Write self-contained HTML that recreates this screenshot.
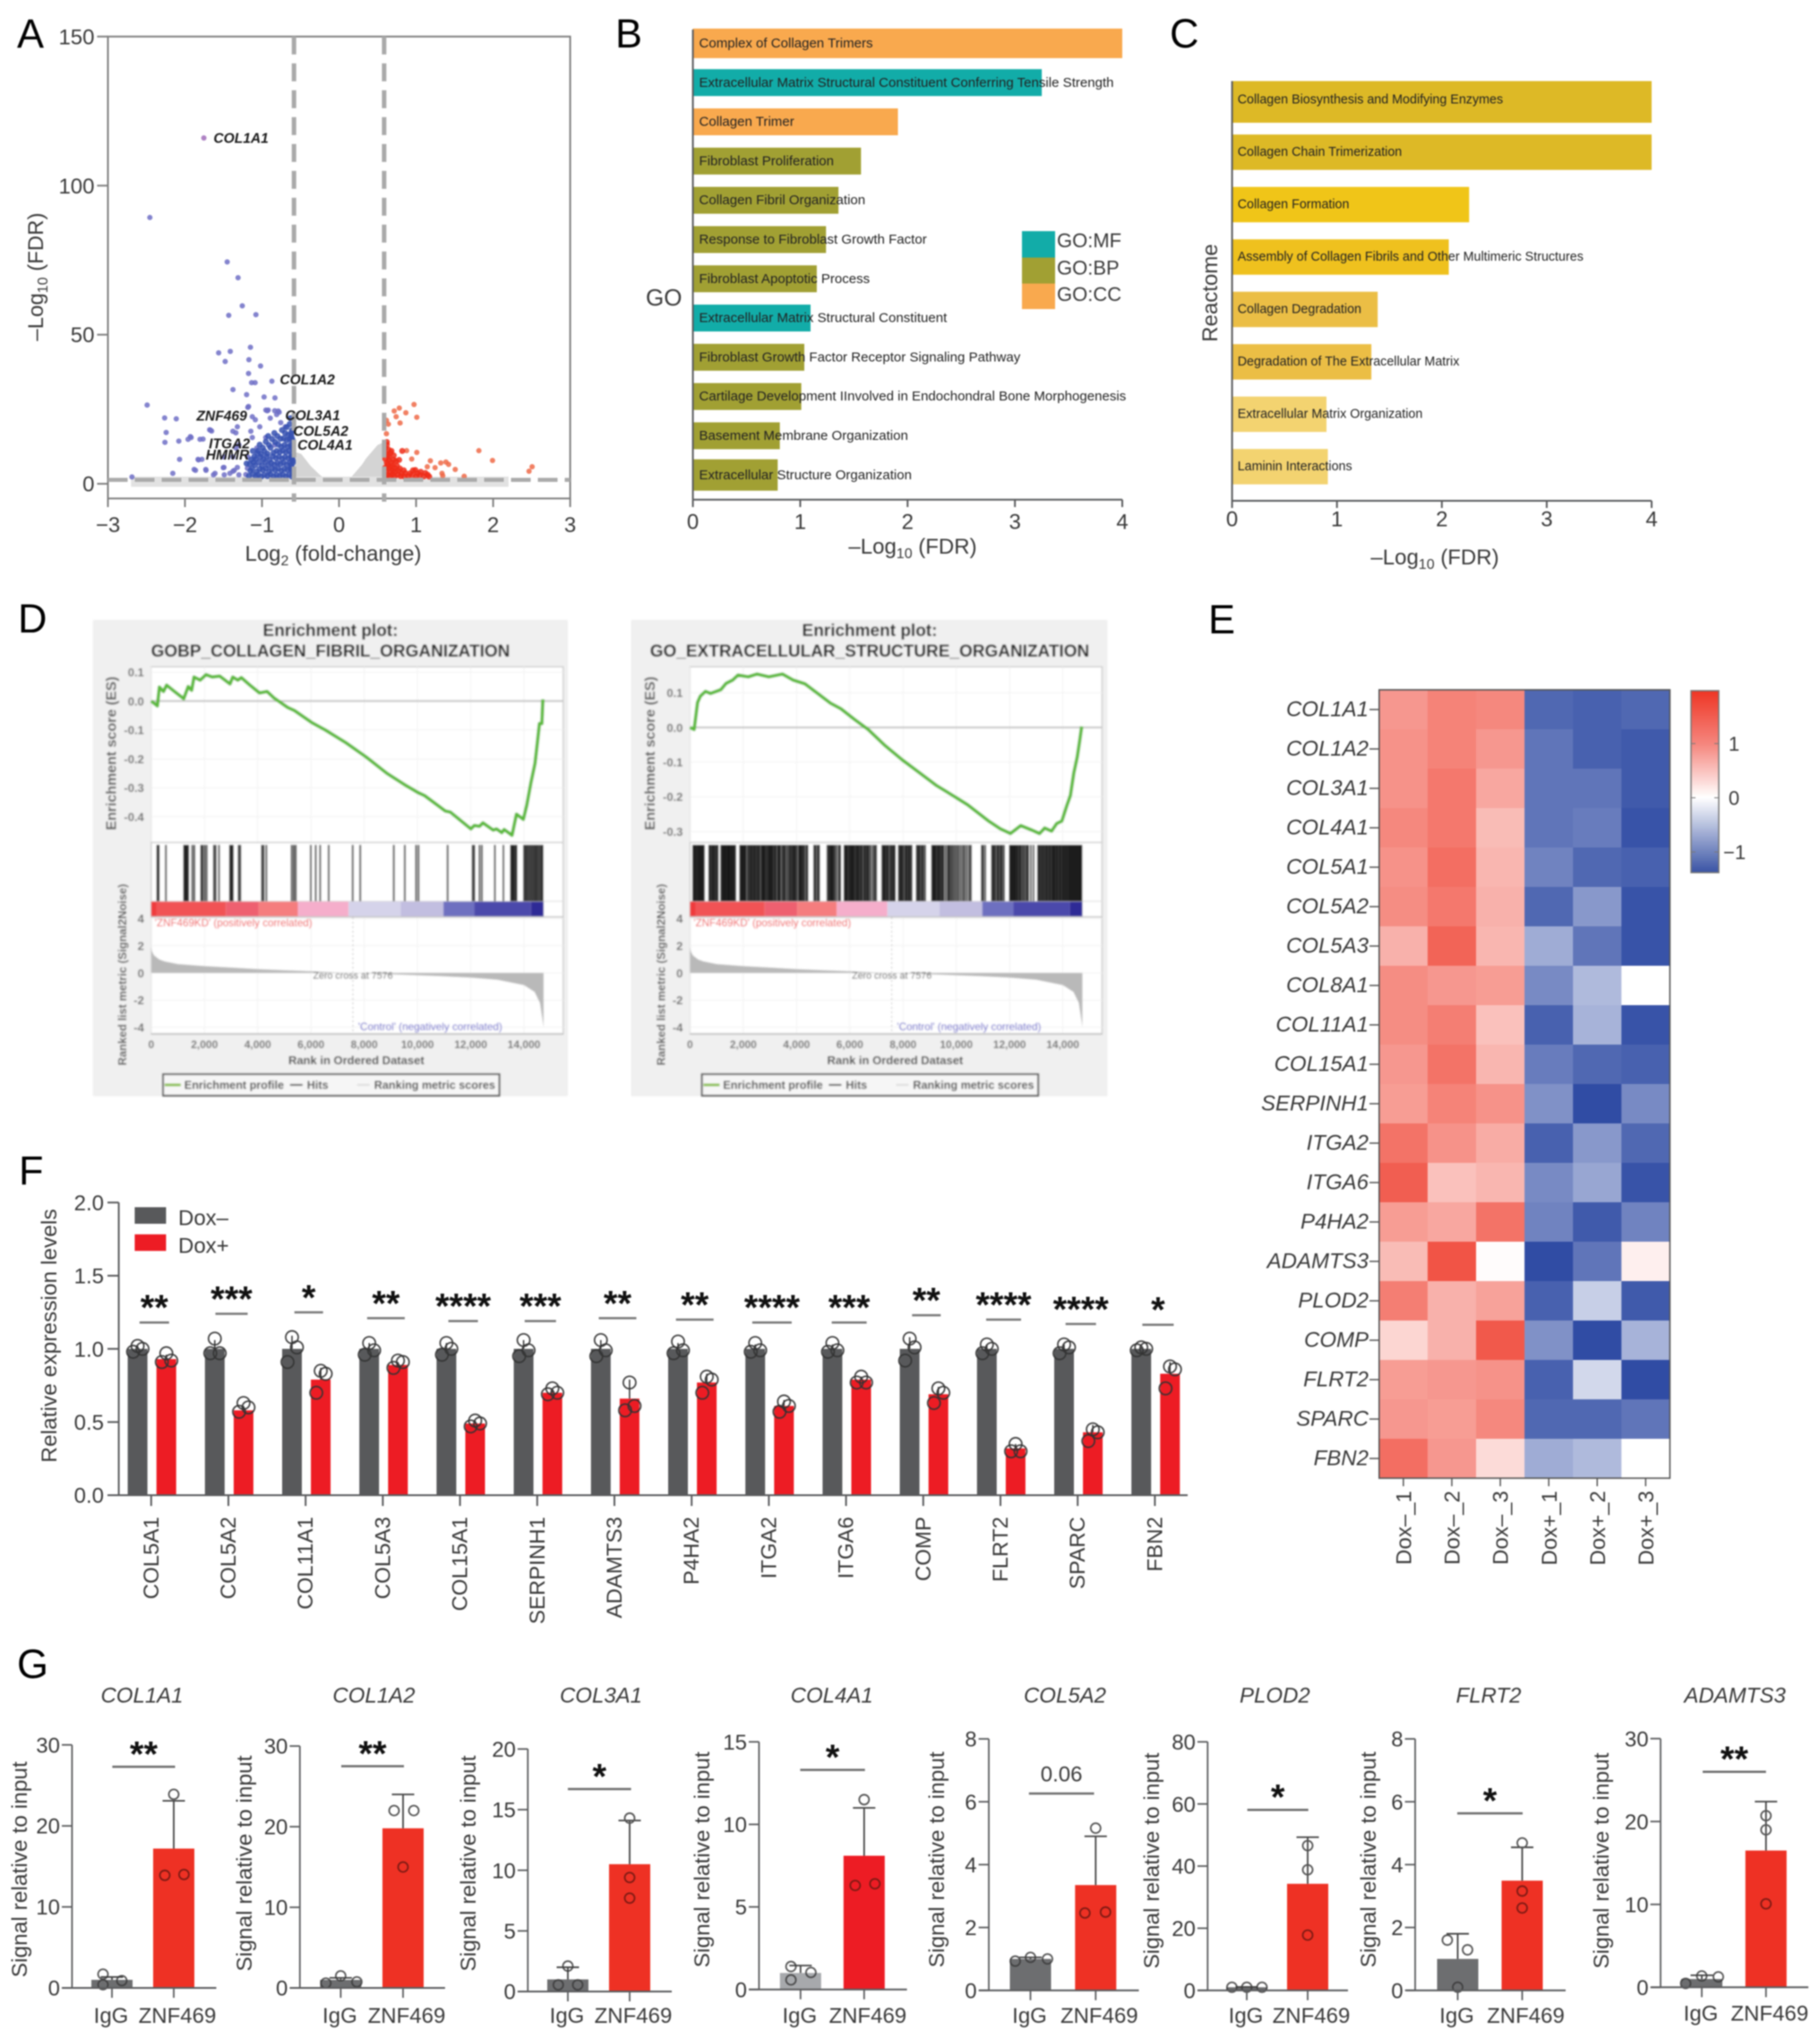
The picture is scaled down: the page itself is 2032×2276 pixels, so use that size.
<!DOCTYPE html>
<html lang="en">
<head>
<meta charset="utf-8">
<title>ZNF469 multi-panel figure</title>
<style>
html,body{margin:0;padding:0;background:#fff;}
#figure{display:block;font-family:"Liberation Sans",sans-serif;filter:blur(.8px);}
#figure text{fill:#3a3a3a;}
#figure .letter{font-size:45px;fill:#000;}
#figure .big{font-size:24px;}
#figure .gt{font-weight:bold;font-size:19px;fill:#1a1a1a;text-anchor:middle;}
#figure .gene{font-weight:bold;font-style:italic;font-size:15.6px;fill:#1c1c1c;}
#figure .star{font-weight:bold;font-size:40px;fill:#111;text-anchor:middle;}
</style>
</head>
<body>
<svg id="figure" width="2032" height="2276" viewBox="0 0 2032 2276">
<defs>
<filter id="soft" x="-2%" y="-2%" width="104%" height="104%"><feGaussianBlur stdDeviation="0.75"/></filter>
<linearGradient id="heat-grad" x1="0" y1="0" x2="0" y2="1">
<stop offset="0" stop-color="#EE3524"/><stop offset="0.3" stop-color="#F58880"/><stop offset="0.588" stop-color="#FFFFFF"/><stop offset="1" stop-color="#3953A4"/>
</linearGradient>
</defs>
<rect width="2032" height="2276" fill="#fff"/>

<!-- Panel letters -->
<text class="letter" x="19" y="53">A</text>
<text class="letter" x="687" y="53">B</text>
<text class="letter" x="1306" y="53">C</text>
<text class="letter" x="20" y="706">D</text>
<text class="letter" x="1349" y="707">E</text>
<text class="letter" x="21" y="1322">F</text>
<text class="letter" x="19" y="1873">G</text>

<!-- Panel A -->
<g id="panelA">
<text class="big" transform="rotate(-90 48 309)" x="48" y="309" text-anchor="middle">–Log<tspan dy="5" font-size="16">10</tspan><tspan dy="-5"> (FDR)</tspan></text>
<text class="big" x="372" y="626" text-anchor="middle">Log<tspan dy="5" font-size="16">2</tspan><tspan dy="-5"> (fold-change)</tspan></text>
</g>

<!-- Panel B -->
<g id="panelB">
<text x="721" y="341" font-size="26">GO</text>
<text class="big" x="1019" y="618" text-anchor="middle">–Log<tspan dy="5" font-size="16">10</tspan><tspan dy="-5"> (FDR)</tspan></text>
<rect x="1141" y="258" width="37" height="29.5" fill="#12ACA8"/>
<rect x="1141" y="287.5" width="37" height="29" fill="#A1A033"/>
<rect x="1141" y="316.5" width="37" height="28.5" fill="#F9A94E"/>
<text x="1180" y="276" font-size="22">GO:MF</text>
<text x="1180" y="306.500" font-size="22">GO:BP</text>
<text x="1180" y="336" font-size="22">GO:CC</text>
</g>

<!-- Panel C -->
<g id="panelC">
<text class="big" transform="rotate(-90 1359 327)" x="1359" y="327" text-anchor="middle">Reactome</text>
<text class="big" x="1602" y="630" text-anchor="middle">–Log<tspan dy="5" font-size="16">10</tspan><tspan dy="-5"> (FDR)</tspan></text>
</g>

<!-- Panel D -->
<g id="panelD1" filter="url(#soft)">
<rect x="103.700" y="692" width="530.300" height="531.600" fill="#f0f0f0"/>
<text class="gt" x="369" y="710">Enrichment plot:</text>
<text class="gt" x="369" y="733">GOBP_COLLAGEN_FIBRIL_ORGANIZATION</text>
</g>
<g id="panelD2" filter="url(#soft)">
<rect x="704.500" y="692" width="532" height="531.600" fill="#f0f0f0"/>
<text class="gt" x="971" y="710">Enrichment plot:</text>
<text class="gt" x="971" y="733">GO_EXTRACELLULAR_STRUCTURE_ORGANIZATION</text>
</g>

<!-- Panel E -->
<g id="panelE">
<rect x="1888" y="771" width="31" height="203" fill="url(#heat-grad)" stroke="#777" stroke-width="1.500"/>
</g>

<!-- Panel F -->
<g id="panelF">
<text class="big" transform="rotate(-90 63 1491)" x="63" y="1491" text-anchor="middle" style="font-size:24.500px">Relative expression levels</text>
<rect x="150.400" y="1347.500" width="35" height="18.500" fill="#58595B"/>
<rect x="150.400" y="1377.800" width="35" height="18.500" fill="#ED1C24"/>
<text class="big" x="199" y="1367.500">Dox–</text>
<text class="big" x="199" y="1398.500">Dox+</text>
</g>

<!-- Panel G -->
<g id="panelG"></g>
</svg>

<script>
/* ---------- Panel A data ---------- */
const volcanoXTicks = [-3,-2,-1,0,1,2,3];
const volcanoYTicks = [0,50,100,150];
const volcanoThresholdFC = 0.585;
const volcanoThresholdFDR = 1.3;
const greyFC  = [-2.7,-1.2,-0.585,-0.585,-0.55,-0.49,-0.43,-0.37,-0.31,-0.25,-0.2,-0.1,0.1,0.15,0.2,0.25,0.3,0.35,0.4,0.45,0.5,0.585,0.585,1.2,2.0];
const greyFDR = [-0.4,-0.4,-0.4,10.5,10.5,10,8,6,4.5,3,2,0.8,0.8,2,3.5,5,6.5,8.5,10,11.5,13,14,-0.4,-0.4,-0.4];
const greyBaseFC  = [-2.7,2.2,2.2,-2.7];
const greyBaseFDR = [-1,-1,2.4,2.4];
const downFC = [
-1.755,-2.456,-1.452,-1.311,-1.256,-1.432,-1.079,-1.15,-1.563,-1.412,-1.478,-1.17,-1.019,-1.175,-.872,-1.135,-1.09,-1.377,-1.2,-.973,-.832,-2.491,-1.175,-.95,-.92,-.79,-.81,-2.264,-2.113,-2.244,-2.26,-2.08,-1.93,-1.96,-1.805,-1.68,-1.654,-2.07,-1.83,-1.78,-2.158,-2.688,
-1.126,-1.087,-1.145,-1.029,-1.32,-1.339,-1.378,-1.669,-1.92,-1.766,-1.824,-1.863,-1.727,-1.61,-1.494,-1.417,-1.32,-1.3,-.952,-.835,-.757,-.699,-.893,-.932,-.835,-.777,-1.184,-1.126,-1.339,-1.184,-1.068,-1.494,-1.378,-1.63,-1.3,-1.36,-1.49,-1.881,-1.73,-1.503,-1.377,
-1.21,-1.19,-1.2,-1.17,-1.15,-1.16,-1.14,-1.12,-1.13,-1.11,-1.1,-1.12,-1.08,-1.07,-1.09,-1.08,-1.06,
-1.05,-1.03,-1.04,-1.02,-1.05,-1.03,-1.01,-.99,-1.0,-.98,-1.01,-.99,-.97,-.95,-.96,-.94,-.97,-.95,
-.93,-.91,-.92,-.9,-.93,-.91,-.92,-.89,-.87,-.88,-.86,-.89,-.87,-.85,-.83,-.84,-.82,-.85,-.83,-.84,
-.81,-.79,-.8,-.78,-.81,-.79,-.8,-.77,-.75,-.76,-.74,-.77,-.75,-.76,-.74,-.73,-.71,-.72,-.7,-.73,-.71,-.72,-.7,
-.69,-.67,-.68,-.66,-.69,-.67,-.68,-.66,-.68,-.65,-.63,-.64,-.62,-.65,-.63,-.64,-.62,-.64,-.63,
-.61,-.6,-.62,-.6,-.61,-.62,-.6,-.61,-.6,-.62,-.61,-.6,-.61,-.62,-.6,-.61,-.6,-.61];
const downFDR = [
116,89.3,74.4,69.1,59.7,56.5,56.7,45.8,43.9,44.4,41,41.6,39.5,37,34.4,33.9,33.9,31.6,29.9,29.1,28.8,26.4,25.9,24.7,24.7,24.4,23.2,22.1,21.8,17.2,13.9,14.3,15.8,14.9,14.9,18.1,17.7,8.2,8.2,8.2,3.5,2.3,
22.5,21.5,17.6,19.1,19.1,17.1,17.6,18,15.5,15,8,4.5,4.5,3.5,5.5,3.5,5.5,13,15.5,13,20.5,19.1,22,24.5,24.5,24,25.6,15.5,12,9,12,9,9,3,3,4.5,3,4.8,4.8,5.4,4.2,
3.1,5.2,6.8,2.6,4.4,6.6,8.1,3.2,5.1,7.2,9.1,11,2.5,4.1,6.2,8.3,10.2,
3.1,5,7.2,9,11.1,13.1,2.4,4.6,6.1,8.2,10,12.1,3,5.1,7.3,9.2,11,14.1,
2.6,4.1,6.2,8,10.1,13,16,3.2,5.1,7,9.2,12.1,15,2.5,4.6,6.4,8.6,10.4,14,17,
3,5.1,7,9.1,11,13.2,16,2.6,4.4,6.6,8.4,10.6,12.4,15.1,18,3.1,5,7.1,9,11.1,13,15.2,17,
2.5,4.6,6.4,8.5,10.6,12.4,14.6,16.4,19,3,5,7.1,9,11.1,13,15,17.1,20,22,
2.4,4,5.5,7.1,8.6,10,11.6,13,14.4,16.1,18,3.2,4.8,6.3,7.8,9.4,12.2,15.2];
const upFC = [
.973,.782,.716,.867,.741,1.009,.792,.615,.64,.615,1.815,1.992,2.506,2.466,1.009,.943,.877,1.185,1.145,1.246,1.32,1.387,1.422,1.508,1.336,1.346,1.624,
.6,.61,.6,.62,.6,.61,.6,.62,.63,.64,.63,.65,.63,.64,.62,.66,.67,.66,.68,.65,.67,.69,.7,.69,.71,.68,.72,.73,.72,.74,.71,.76,.77,.75,.78,.8,.81,.79,.82,.85,.86,.84,.9,.92,.95,.96,1.0,1.02,.99,1.05,1.06,1.1,1.12,1.15,1.17];
const upFDR = [
26.6,25.4,24.4,23.8,22.5,22.3,20.4,21.3,20,16.8,11.1,7.8,5.7,4.2,10.5,8.3,11.1,7.7,5.7,5.4,7,7.3,6.5,4.8,3.5,2.7,2.5,
2.5,4.1,5.4,7.1,8.4,10.1,12,14,3,5.1,6.4,8,9.6,11.5,13.1,2.6,4,5.6,7.1,9,10.4,3.1,4.4,6.1,8,11,2.5,4.1,5.4,7.6,9.5,3,4.4,6.1,8,2.6,3.4,5.1,11,2.4,3.6,4.5,2.6,3.5,3,4.5,2.5,3.5,4.6,3,4,2.5,3.6,3,2.4];
const geneLabels = ['COL1A1','COL1A2','ZNF469','COL3A1','COL5A2','ITGA2','COL4A1','HMMR'];
const geneLabelFC  = [-1.63,-.77,-1.85,-.70,-.595,-1.69,-.54,-1.73];
const geneLabelFDR = [116,35,22.8,23,17.8,13.5,13,9.8];

/* ---------- Panel B data ---------- */
const goTerms = ['Complex of Collagen Trimers','Extracellular Matrix Structural Constituent Conferring Tensile Strength','Collagen Trimer','Fibroblast Proliferation','Collagen Fibril Organization','Response to Fibroblast Growth Factor','Fibroblast Apoptotic Process','Extracellular Matrix Structural Constituent','Fibroblast Growth Factor Receptor Signaling Pathway','Cartilage Development IInvolved in Endochondral Bone Morphogenesis','Basement Membrane Organization','Extracellular Structure Organization'];
const goValues = [4,3.25,1.91,1.566,1.356,1.24,1.154,1.096,1.038,1.01,0.81,0.79];
const goSources = ['CC','MF','CC','BP','BP','BP','BP','MF','BP','BP','BP','BP'];
const fdrTicks = [0,1,2,3,4];

/* ---------- Panel C data ---------- */
const reactomeTerms = ['Collagen Biosynthesis and Modifying Enzymes','Collagen Chain Trimerization','Collagen Formation','Assembly of Collagen Fibrils and Other Multimeric Structures','Collagen Degradation','Degradation of The Extracellular Matrix','Extracellular Matrix Organization','Laminin Interactions'];
const reactomeValues = [4,4,2.26,2.066,1.388,1.328,0.9,0.913];

/* ---------- Panel D data ---------- */
const gseaXTicks = [0,2000,4000,6000,8000,10000,12000,14000];
const gseaXTickLabels = ['0','2,000','4,000','6,000','8,000','10,000','12,000','14,000'];
const metricTicks = [4,2,0,-2,-4];
const metricRank = [0,30,100,300,500,1000,2000,3000,4000,5000,6000,7000,7576,9000,10000,11000,12000,13000,14000,14400,14600,14700,14736];
const metricValue = [1.9,1.6,1.3,1.0,.85,.65,.5,.4,.28,.2,.12,.03,0,-.1,-.17,-.25,-.35,-.5,-.9,-1.4,-2.2,-3.5,-4];
const collagenEsTicks = [0.1,0,-0.1,-0.2,-0.3,-0.4];
const collagenRank = [0,232,309,463,579,875,1223,1390,1519,1609,1840,2059,2291,2574,2960,3063,3256,3385,3707,4067,4350,4607,5122,5380,6023,6538,7310,8082,8855,9498,10013,10270,11042,11235,12007,12136,12329,12458,12844,12973,13166,13256,13552,13719,13976,14105,14260,14414,14517,14582,14672,14710];
const collagenES = [0,-.017,.048,.033,.055,.033,.008,.05,.037,.083,.072,.091,.083,.086,.059,.083,.072,.081,.055,.028,.033,.011,-.022,-.033,-.074,-.1,-.144,-.194,-.25,-.288,-.316,-.327,-.38,-.384,-.442,-.43,-.433,-.421,-.446,-.442,-.455,-.444,-.464,-.391,-.409,-.36,-.283,-.216,-.133,-.078,-.078,.006];
const collagenHits = [232,283,553,1236,1287,1338,1390,1544,1622,1879,1931,2008,2085,2355,2420,2548,2960,3012,3063,3282,3346,4157,4221,4324,5277,5354,5431,5997,6178,6345,6667,7568,7851,9112,9524,9949,10039,11133,12072,12136,12329,12420,12909,13230,13513,13565,13617,13681,13719,14002,14067,14131,14196,14260,14324,14389,14453,14517,14582,14646,14697];
const structureEsTicks = [0.1,0,-0.1,-0.2,-0.3];
const structureRank = [0,154,283,386,579,772,1158,1351,1609,1802,2188,2510,2960,3475,3861,4311,4762,5277,5663,6178,6692,7336,7979,8623,9266,9653,10425,11197,11647,12033,12420,12806,13127,13320,13578,13771,13964,14157,14286,14414,14543,14633,14710];
const structureES = [0,-.006,.072,.09,.104,.098,.109,.127,.137,.151,.146,.154,.146,.154,.137,.126,.1,.07,.054,.023,-.006,-.053,-.094,-.131,-.168,-.186,-.223,-.269,-.292,-.306,-.283,-.295,-.306,-.29,-.299,-.277,-.27,-.224,-.196,-.131,-.085,-.039,.003];
const structureHits = [120,170,210,270,320,370,420,470,520,720,770,830,880,940,1000,1040,1170,1220,1260,1300,1340,1390,1430,1470,1510,1560,1600,1650,1700,1880,1920,1960,2010,2060,2100,2170,2230,2290,2340,2400,2440,2500,2560,2610,2680,2730,2770,2810,2870,2930,2980,3020,3060,3110,3170,3230,3300,3350,3390,3460,3520,3580,3650,3720,3780,3840,3900,3950,4010,4080,4130,4180,4240,4300,4370,4410,4660,4720,4790,4850,5160,5220,5280,5330,5380,5440,5510,5590,5640,5800,5850,5900,5960,6020,6070,6120,6170,6230,6290,6340,6400,6460,6530,6590,6650,6710,6780,6860,6930,6990,7220,7280,7330,7390,7450,7520,7580,7640,7690,7840,7900,7950,8010,8080,8140,8200,8260,8320,8510,8570,8630,8700,8760,8830,9090,9140,9180,9230,9290,9340,9400,9460,9520,9600,9680,9740,9810,9880,9950,10020,10090,10170,10250,10320,10400,10480,10550,10960,11010,11090,11340,11400,11460,11530,11590,11660,11720,11790,12010,12060,12100,12150,12200,12250,12310,12370,12430,12500,12570,12640,12700,12800,12900,13070,13120,13180,13240,13300,13360,13420,13480,13540,13600,13650,13700,13760,13810,13870,13920,13980,14030,14080,14130,14180,14230,14280,14330,14380,14430,14480,14530,14580,14620,14660,14700];
const bandEdges = [0,206,2805,4028,5508,7413,9369,10977,12136,14260,14736];

/* ---------- Panel E data ---------- */
const heatGenes = ['COL1A1','COL1A2','COL3A1','COL4A1','COL5A1','COL5A2','COL5A3','COL8A1','COL11A1','COL15A1','SERPINH1','ITGA2','ITGA6','P4HA2','ADAMTS3','PLOD2','COMP','FLRT2','SPARC','FBN2'];
const heatSamples = ['Dox–_1','Dox–_2','Dox–_3','Dox+_1','Dox+_2','Dox+_3'];
const heatDoxMinus1 = [1.0,1.05,1.05,1.15,1.05,1.1,.75,1.1,1.1,1.0,.95,1.35,1.55,.95,.65,1.25,.4,.95,1.0,1.4];
const heatDoxMinus2 = [1.2,1.2,1.3,1.3,1.4,1.3,1.5,1.0,1.25,1.35,1.2,1.05,.6,.85,1.65,.75,.75,1.0,.95,1.0];
const heatDoxMinus3 = [1.15,1.0,.85,.65,.7,.75,.7,.95,.6,.7,1.05,.8,.7,1.35,.03,.9,1.6,1.05,1.15,.35];
const heatDoxPlus1 = [-1.1,-1.0,-1.0,-1.0,-.9,-1.1,-.6,-.85,-1.15,-.95,-.8,-1.15,-.85,-.9,-1.35,-1.15,-.8,-1.15,-1.1,-.6];
const heatDoxPlus2 = [-1.15,-1.15,-1.0,-.95,-1.1,-.75,-1.0,-.5,-.55,-1.1,-1.3,-.75,-.65,-1.2,-1.0,-.35,-1.3,-.28,-1.1,-.5];
const heatDoxPlus3 = [-1.1,-1.2,-1.2,-1.25,-1.15,-1.25,-1.25,0,-1.25,-1.15,-.85,-1.1,-1.25,-.9,.15,-1.2,-.55,-1.3,-1.0,0];
const heatColorbarTicks = [1,0,-1];
const heatColorbarLabels = ['1','0','−1'];

/* ---------- Panel F data ---------- */
const fGenes = ['COL5A1','COL5A2','COL11A1','COL5A3','COL15A1','SERPINH1','ADAMTS3','P4HA2','ITGA2','ITGA6','COMP','FLRT2','SPARC','FBN2'];
const fDoxMinus = [1,1,1,1,1,1,1,1,1,1,1,1,1,1];
const fDoxPlus = [.93,.58,.79,.89,.49,.70,.66,.77,.61,.79,.69,.32,.43,.83];
const fErrMinus = [.02,.06,.09,.04,.04,.06,.06,.04,.03,.03,.08,.03,.03,.01];
const fErrPlus = [.03,.03,.08,.02,.02,.02,.13,.06,.04,.02,.05,.03,.05,.08];
const fRepsMinus = [[.98,1.02,1.0],[.97,1.07,.97],[.91,1.08,1.01],[.96,1.04,.99],[.96,1.04,1.0],[.95,1.06,.99],[.95,1.06,.99],[.97,1.05,.99],[.98,1.04,.99],[.98,1.04,.99],[.92,1.07,1.01],[.97,1.03,1.0],[.97,1.03,1.01],[.99,1.01,1.0]];
const fRepsPlus = [[.91,.97,.92],[.57,.63,.6],[.70,.85,.83],[.87,.92,.91],[.47,.51,.49],[.69,.73,.7],[.58,.77,.61],[.70,.81,.79],[.57,.64,.61],[.77,.81,.77],[.63,.73,.70],[.30,.35,.30],[.37,.45,.43],[.73,.88,.86]];
const fSigLevel = [1.18,1.24,1.25,1.21,1.19,1.19,1.21,1.20,1.18,1.18,1.23,1.20,1.17,1.165];
const fSigText = ['**','***','*','**','****','***','**','**','****','***','**','****','****','*'];
const fYTicks = [0,.5,1,1.5,2];
const fYTickLabels = ['0.0','0.5','1.0','1.5','2.0'];

/* ---------- Panel G data ---------- */
const gGenes = ['COL1A1','COL1A2','COL3A1','COL4A1','COL5A2','PLOD2','FLRT2','ADAMTS3'];
const gCategories = ['IgG','ZNF469'];
const gYMax = [30,30,20,15,8,80,8,30];
const gYTicks = [[0,10,20,30],[0,10,20,30],[0,5,10,15,20],[0,5,10,15],[0,2,4,6,8],[0,20,40,60,80],[0,2,4,6,8],[0,10,20,30]];
const gIgG = [1,1,1,1,1,1,1,1];
const gZNF = [17.2,19.8,10.5,8.1,3.35,34.3,3.49,16.5];
const gIgGErr = [.35,.25,1,.45,.05,.1,.8,.45];
const gZNFErr = [5.9,4.2,3.6,2.9,1.55,15,1.06,5.9];
const gIgGReps = [[1.7,.4,.9],[.6,1.5,.75],[.55,.55,2.1],[.58,1.39,1.03],[.93,1.05,1.0],[1,1,1],[.1,1.6,1.29],[.47,1.37,1.26]];
const gZNFReps = [[13.9,14,23.9],[15,22,22],[14.3,9.4,7.7],[6.3,6.4,11.5],[2.46,2.49,5.16],[17.8,38.8,46.6],[3.16,2.62,4.69],[10.07,19,20.7]];
const gSigLevel = [27.3,27.5,16.7,13.3,6.26,58.1,5.63,26];
const gSigText = ['**','**','*','*','0.06','*','*','**'];

/* ---------- Helpers ---------- */
const svgRoot = document.getElementById('figure');
const NS = svgRoot.namespaceURI;
function mk(tag, attrs, parent) {
  const el = document.createElementNS(NS, tag);
  for (const k in attrs) el.setAttribute(k, attrs[k]);
  parent.appendChild(el);
  return el;
}
function scale(d0, d1, r0, r1) {
  return v => r0 + (v - d0) * (r1 - r0) / (d1 - d0);
}
function axisLine(parent, x1, y1, x2, y2, stroke, width) {
  const el = mk('line', {x1, y1, x2, y2, stroke, 'stroke-width': width}, parent);
  
  
  return el;
}
function label(parent, str, x, y, size, anchor, extra) {
  const el = mk('text', Object.assign({x, y, 'font-size': size, 'text-anchor': anchor}, extra || {}), parent);
  el.textContent = str;
  
  
  return el;
}
const AXC = '#5b5c5e';

/* ---------- Panel A ---------- */
(function () {
  const g = document.getElementById('panelA');
  const xA = scale(-3, 3, 120.5, 636.6);
  const yA = scale(0, 150, 540, 40.8);
  const greyPts = greyFC.map((v, i) => xA(v) + ',' + yA(greyFDR[i])).join(' ');
  const greyPoly = mk('polygon', {points: greyPts, fill: '#d4d4d4'}, g);
  
  
  const basePts = greyBaseFC.map((v, i) => xA(v) + ',' + yA(greyBaseFDR[i])).join(' ');
  const basePoly = mk('polygon', {points: basePts, fill: '#e2e2e2'}, g);
  
  
  upFC.forEach((v, i) => {
    const c = mk('circle', {cx: xA(v), cy: yA(upFDR[i]), r: i < 27 ? 3 : 3.4, fill: i < 27 ? '#ef6a48' : '#ee2c18', 'fill-opacity': i < 27 ? .85 : .85}, g);
    
    
  });
  downFC.forEach((v, i) => {
    const c = mk('circle', {cx: xA(v), cy: yA(downFDR[i]), r: i < 85 ? 3 : 3.4, fill: i === 0 ? '#a06cb8' : (i < 85 ? '#6f6fc6' : '#3550b0'), 'fill-opacity': .85}, g);
    
    
  });
  const box = mk('rect', {x: 120.5, y: 40.8, width: 516.1, height: 515.6, fill: 'none', stroke: '#808080', 'stroke-width': 2}, g);
  
  
  [-volcanoThresholdFC, volcanoThresholdFC].forEach(v => {
    const l = mk('line', {x1: xA(v), x2: xA(v), y1: 40.8, y2: 560, stroke: '#aaaaaa', 'stroke-width': 5, 'stroke-dasharray': '20 10'}, g);
    
    
  });
  const h = mk('line', {x1: 120.5, x2: 636.6, y1: yA(volcanoThresholdFDR), y2: yA(volcanoThresholdFDR), stroke: '#aaaaaa', 'stroke-width': 4.5, 'stroke-dasharray': '22 8'}, g);
  
  
  volcanoYTicks.forEach(v => {
    axisLine(g, 108.4, yA(v), 120.5, yA(v), '#808080', 2);
    label(g, String(v), 105.5, yA(v) + 8.6, 24, 'end');
  });
  volcanoXTicks.forEach(v => {
    axisLine(g, xA(v), 556.4, xA(v), 566, '#808080', 2);
    label(g, String(v).replace('-', '−'), xA(v), 594, 24, 'middle');
  });
  geneLabels.forEach((t, i) => {
    const el = mk('text', {x: xA(geneLabelFC[i]), y: yA(geneLabelFDR[i]) + 5.5, class: 'gene'}, g);
    el.textContent = t;
    
    
  });
})();

/* ---------- Panel B ---------- */
(function () {
  const g = document.getElementById('panelB');
  const xB = scale(0, 4, 773.6, 1253);
  const rowB = i => 48.4 + i * 43.8;
  const sourceColor = {CC: '#F9A94E', MF: '#12ACA8', BP: '#A1A033'};
  goTerms.forEach((t, i) => {
    const h = i === 0 ? 33 : (i === 11 ? 35 : 30);
    const b = mk('rect', {x: xB(0), y: rowB(i) - h / 2, width: xB(goValues[i]) - xB(0), height: h, fill: sourceColor[goSources[i]]}, g);
    
    
  });
  goTerms.forEach((t, i) => {
    label(g, t, 780.5, rowB(i) + 4.6, 15.05, 'start', {style: 'fill:#222'});
  });
  axisLine(g, xB(0), 33, xB(0), 557.7, AXC, 2);
  axisLine(g, xB(0), 557.7, xB(4), 557.7, AXC, 2);
  fdrTicks.forEach(v => {
    axisLine(g, xB(v), 557.7, xB(v), 566, AXC, 2);
    label(g, String(v), xB(v), 590.6, 24, 'middle');
  });
})();

/* ---------- Panel C ---------- */
(function () {
  const g = document.getElementById('panelC');
  const xC = scale(0, 4, 1375.6, 1844);
  const rowC = i => 111 + i * 58.5;
  const shades = ['#DDB926','#DDB926','#F0C518','#EFC11E','#EBBE45','#EBBE45','#F3D370','#F3D370'];
  reactomeTerms.forEach((t, i) => {
    const h = i === 0 ? 46.5 : 39.5;
    const top = i === 0 ? 90.5 : rowC(i) - h / 2 + 0.4;
    const b = mk('rect', {x: xC(0), y: top, width: xC(reactomeValues[i]) - xC(0), height: h, fill: shades[i]}, g);
    
    
  });
  reactomeTerms.forEach((t, i) => {
    label(g, t, 1381.7, rowC(i) + 4.6, 14.3, 'start', {style: 'fill:#222'});
  });
  axisLine(g, xC(0), 90.5, xC(0), 559, AXC, 2);
  axisLine(g, xC(0), 559, xC(4), 559, AXC, 2);
  fdrTicks.forEach(v => {
    axisLine(g, xC(v), 559, xC(v), 567, AXC, 2);
    label(g, String(v), xC(v), 587.3, 24, 'middle');
  });
})();

/* ---------- Panel D ---------- */
function drawGsea(g, opt) {
  const L = opt.left, R = L + 460;
  const xD = scale(0, 14000, L, L + 416.2);
  const yES = scale(0, 0.1, opt.zero, opt.zero - opt.unit);
  const yM = scale(0, 2, 1086, 1055.7);
  const bg = mk('rect', {x: L, y: 744.3, width: 460, height: 410, fill: '#fff', stroke: '#cfcfcf', 'stroke-width': 1.5}, g);
  
  
  /* grid */
  gseaXTicks.forEach(v => {
    axisLine(g, xD(v), 744.3, xD(v), 940, '#f2f2f2', 1);
    axisLine(g, xD(v), 1024, xD(v), 1154, '#f2f2f2', 1);
  });
  opt.esTicks.forEach(v => {
    axisLine(g, L, yES(v), R, yES(v), v === 0 ? '#c4c4c4' : '#f2f2f2', v === 0 ? 2 : 1);
    label(g, v === 0 ? '0.0' : v.toFixed(1), L - 8, yES(v) + 4.8, 13, 'end', {'font-weight': 'bold', style: 'fill:#6e6e6e'});
  });
  metricTicks.forEach(v => {
    axisLine(g, L, yM(v), R, yM(v), '#f2f2f2', 1);
    label(g, String(v), L - 8, yM(v) + 4.8, 13, 'end', {'font-weight': 'bold', style: 'fill:#6e6e6e'});
  });
  axisLine(g, L, 940.4, R, 940.4, '#cfcfcf', 1.5);
  axisLine(g, L, 1006, R, 1006, '#dddddd', 1);
  /* hits */
  opt.hits.forEach(r => {
    const l = mk('line', {x1: xD(r), x2: xD(r), y1: 943, y2: 1006, stroke: '#0c0c0c', 'stroke-width': 1.8, 'stroke-opacity': .9}, g);
    
    
  });
  /* colour band */
  const bandColors = ['#ef3a3c','#f15254','#ee6170','#f57d7e','#f5aecb','#d5d3ea','#c2bee0','#6e70c0','#4b48ab','#2e2a96'];
  bandEdges.slice(0, -1).forEach((e, i) => {
    const r = mk('rect', {x: xD(e), y: 1006.4, width: xD(bandEdges[i + 1]) - xD(e), height: 16.6, fill: bandColors[i]}, g);
    
    
  });
  axisLine(g, L, 1023.5, R, 1023.5, '#c4c4c4', 1.5);
  /* metric area */
  const metricPts = [xD(0) + ',' + yM(0)].concat(metricRank.map((r, i) => xD(r) + ',' + yM(metricValue[i])), [xD(14736) + ',' + yM(0)]).join(' ');
  const area = mk('polygon', {points: metricPts, fill: '#b9b9b9'}, g);
  
  
  const zl = mk('line', {x1: xD(7576), x2: xD(7576), y1: 1024, y2: 1154, stroke: '#bbb', 'stroke-width': 1, 'stroke-dasharray': '2 3'}, g);
  
  
  /* curve */
  const curve = mk('polyline', {points: opt.rank.map((r, i) => xD(r) + ',' + yES(opt.es[i])).join(' '), fill: 'none', stroke: '#59b838', 'stroke-width': 3.6, 'stroke-linejoin': 'round'}, g);
  
  
  /* x ticks */
  axisLine(g, L, 1154, R, 1154, '#bdbdbd', 1.5);
  gseaXTicks.forEach((v, i) => {
    label(g, gseaXTickLabels[i], xD(v), 1170, 12, 'middle', {'font-weight': 'bold', style: 'fill:#6e6e6e'});
  });
  /* annotation text */
  label(g, 'Rank in Ordered Dataset', L + 229, 1188, 13, 'middle', {'font-weight': 'bold', style: 'fill:#4a4a4a'});
  label(g, 'Enrichment score (ES)', 0, 0, 16, 'middle', {'font-weight': 'bold', style: 'fill:#5a5a5a', transform: 'translate(' + (L - 39.5) + ',841) rotate(-90)'});
  label(g, 'Ranked list metric (Signal2Noise)', 0, 0, 12.8, 'middle', {'font-weight': 'bold', style: 'fill:#5a5a5a', transform: 'translate(' + (L - 28) + ',1088) rotate(-90)'});
  label(g, "'ZNF469KD' (positively correlated)", L + 4, 1034, 11.6, 'start', {style: 'fill:#f04a4c'});
  label(g, "'Control' (negatively correlated)", L + 231, 1150, 11.7, 'start', {style: 'fill:#5e5cca'});
  label(g, 'Zero cross at 7576', xD(7576), 1092.5, 10.7, 'middle', {style: 'fill:#555'});
  /* legend */
  const lb = mk('rect', {x: L + 13.2, y: 1199, width: 375.6, height: 24, fill: '#f6f6f6', stroke: '#555', 'stroke-width': 2}, g);
  
  
  axisLine(g, L + 15, 1211, L + 33, 1211, '#8cc152', 3);
  axisLine(g, L + 155, 1211, L + 169, 1211, '#555', 2);
  axisLine(g, L + 230, 1211, L + 244, 1211, '#ddd', 2);
  label(g, 'Enrichment profile', L + 37, 1215.5, 12.6, 'start', {'font-weight': 'bold', style: 'fill:#4a4a4a'});
  label(g, 'Hits', L + 174, 1215.5, 12.6, 'start', {'font-weight': 'bold', style: 'fill:#4a4a4a'});
  label(g, 'Ranking metric scores', L + 249, 1215.5, 12.6, 'start', {'font-weight': 'bold', style: 'fill:#4a4a4a'});
}
drawGsea(document.getElementById('panelD1'), {left: 168.8, zero: 782.5, unit: 32.3, esTicks: collagenEsTicks, rank: collagenRank, es: collagenES, hits: collagenHits});
drawGsea(document.getElementById('panelD2'), {left: 770.4, zero: 812, unit: 38.7, esTicks: structureEsTicks, rank: structureRank, es: structureES, hits: structureHits});

/* ---------- Panel E ---------- */
(function () {
  const g = document.getElementById('panelE');
  const X0 = 1539.8, Y0 = 770, CW = 54.1, RH = 44;
  const heatCols = [heatDoxMinus1, heatDoxMinus2, heatDoxMinus3, heatDoxPlus1, heatDoxPlus2, heatDoxPlus3];
  function heatColor(v) {
    const hi = v > 0 ? [238, 53, 36] : [48, 76, 164];
    const t = Math.min(Math.abs(v) / (v > 0 ? 1.95 : 1.3), 1);
    const c = hi.map(h => Math.round(255 + (h - 255) * t));
    return 'rgb(' + c.join(',') + ')';
  }
  const colX = j => X0 + CW * j;
  const rowY = i => Y0 + RH * i;
  heatCols.forEach((col, j) => {
    col.forEach((v, i) => {
      const r = mk('rect', {x: colX(j), y: rowY(i), width: CW + .4, height: RH + .4, fill: heatColor(v)}, g);
      
      
    });
  });
  const fr = mk('rect', {x: X0, y: Y0, width: CW * 6, height: RH * 20, fill: 'none', stroke: '#555', 'stroke-width': 1.6}, g);
  
  
  heatGenes.forEach((t, i) => {
    axisLine(g, 1529, rowY(i) + RH / 2, X0, rowY(i) + RH / 2, '#555', 1.5);
    label(g, t, 1528, rowY(i) + RH / 2 + 7.4, 24, 'end', {'font-style': 'italic'});
  });
  heatSamples.forEach((t, j) => {
    const cx = colX(j) + CW / 2;
    axisLine(g, cx, Y0 + RH * 20, cx, Y0 + RH * 20 + 9, '#555', 1.5);
    label(g, t, 0, 0, 24, 'end', {transform: 'translate(' + (cx + 8.6) + ',1664) rotate(-90)'});
  });
  const yBar = scale(0, 1, 890.5, 830);
  heatColorbarTicks.forEach((v, i) => {
    axisLine(g, 1888, yBar(v), 1893, yBar(v), '#777', 1);
    axisLine(g, 1914, yBar(v), 1919, yBar(v), '#777', 1);
    label(g, heatColorbarLabels[i], v < 0 ? 1924 : 1936, yBar(v) + 8, 22, v < 0 ? 'start' : 'middle');
  });
})();

/* ---------- Panel F ---------- */
(function () {
  const g = document.getElementById('panelF');
  const yF = scale(0, 2, 1669, 1342.3);
  const xF = i => 168.8 + i * 86.2;
  const sigSpan = [33,36,32,42,33,35,42,42,44,39,32,39,34,35];
  axisLine(g, 132.6, 1342.3, 132.6, 1669, AXC, 2);
  fYTicks.forEach((v, i) => {
    axisLine(g, 120, yF(v), 132.6, yF(v), AXC, 2);
    label(g, fYTickLabels[i], 116, yF(v) + 8.6, 24, 'end');
  });
  fGenes.forEach((t, i) => {
    const cx = xF(i);
    const gx = cx - 15.2, rx = cx + 16.9;
    const bg = mk('rect', {x: gx - 11, y: yF(fDoxMinus[i]), width: 22, height: yF(0) - yF(fDoxMinus[i]), fill: '#58595B'}, g);
    
    
    const br = mk('rect', {x: rx - 11, y: yF(fDoxPlus[i]), width: 22, height: yF(0) - yF(fDoxPlus[i]), fill: '#ED1C24'}, g);
    
    
    const eg = mk('line', {x1: gx, x2: gx, y1: yF(fDoxMinus[i]), y2: yF(fDoxMinus[i] + fErrMinus[i]), stroke: '#333', 'stroke-width': 1.5}, g);
    
    
    const er = mk('line', {x1: rx, x2: rx, y1: yF(fDoxPlus[i]), y2: yF(fDoxPlus[i] + fErrPlus[i]), stroke: '#333', 'stroke-width': 1.5}, g);
    
    
    const jitter = [-5, 0, 5.5];
    fRepsMinus[i].forEach((v, k) => {
      const c = mk('circle', {cx: gx + jitter[k], cy: yF(v), r: 7, fill: 'none', stroke: '#333', 'stroke-width': 1.8, 'stroke-opacity': .9}, g);
      
      
    });
    fRepsPlus[i].forEach((v, k) => {
      const c = mk('circle', {cx: rx + jitter[k], cy: yF(v), r: 7, fill: 'none', stroke: '#333', 'stroke-width': 1.8, 'stroke-opacity': .9}, g);
      
      
    });
    const half = sigSpan[i] / 2;
    const s = mk('line', {x1: cx + 3.5 - half, x2: cx + 3.5 + half, y1: yF(fSigLevel[i]), y2: yF(fSigLevel[i]), stroke: '#7a7a7a', 'stroke-width': 2.5}, g);
    
    
    const st = mk('text', {x: cx + 3.5, y: yF(fSigLevel[i]) - 3, class: 'star'}, g);
    st.textContent = fSigText[i];
    
    
    axisLine(g, cx, 1669, cx, 1681, AXC, 2);
    label(g, t, 0, 0, 24, 'end', {transform: 'translate(' + (cx + 8) + ',1693) rotate(-90)'});
  });
  axisLine(g, 120, 1669, 1326, 1669, AXC, 2);
})();

/* ---------- Panel G ---------- */
(function () {
  const g = document.getElementById('panelG');
  const layout = [
    {ax: 80.4, y0: 2219, top: 1947.7, igg: 125, znf: 194, left: 69, right: 241.5, title: 158.5, yt: 30, ytc: 2086.7, sigL: 125.4, sigR: 195.5, jg: [-10, -10, 11], jr: [-10, 11.4, 0], grey: '#6d6e70', red: '#EE3124', lab: 2249.3},
    {ax: 334.8, y0: 2219, top: 1949, igg: 380.4, znf: 450, left: 323.7, right: 496.9, title: 417.4, yt: 281, ytc: 2080, sigL: 381, sigR: 451, jg: [-16.6, 0, 18], jr: [0, -10, 12], grey: '#6d6e70', red: '#EE3124', lab: 2249.3},
    {ax: 589.3, y0: 2223, top: 1952.3, igg: 634, znf: 703, left: 578, right: 750, title: 671, yt: 531, ytc: 2080, sigL: 634, sigR: 704.6, jg: [-10.7, 11, 0], jr: [0, 0, 0], grey: '#6d6e70', red: '#EE3124', lab: 2249.3},
    {ax: 847.4, y0: 2220.7, top: 1944.3, igg: 893.8, znf: 964.8, left: 836, right: 1012.6, title: 928.7, yt: 792, ytc: 2075.7, sigL: 893.4, sigR: 965.7, jg: [-10.7, -10.7, 11.6], jr: [-10, 12, 0], grey: '#a7a9ac', red: '#ED1C24', lab: 2249.3},
    {ax: 1104, y0: 2221.7, top: 1941, igg: 1150.5, znf: 1223.3, left: 1093, right: 1271.5, title: 1189, yt: 1054, ytc: 2075.7, sigL: 1148.8, sigR: 1221.5, jg: [-17, 0, 19], jr: [-12, 11, 0], grey: '#6d6e70', red: '#EE3124', lab: 2249.3},
    {ax: 1348.3, y0: 2221.7, top: 1944.3, igg: 1392, znf: 1460, left: 1337, right: 1505, title: 1423.4, yt: 1294, ytc: 2077, sigL: 1392.6, sigR: 1460.7, jg: [-16.6, 0, 17], jr: [0, 0, 0], grey: '#6d6e70', red: '#EE3124', lab: 2249.3},
    {ax: 1580, y0: 2221.7, top: 1941, igg: 1627.5, znf: 1699.5, left: 1570, right: 1748, title: 1662, yt: 1536, ytc: 2075.7, sigL: 1627, sigR: 1700, jg: [0, -11.6, 11], jr: [0, 0, 0], grey: '#6d6e70', red: '#EE3124', lab: 2249.3},
    {ax: 1854, y0: 2218.3, top: 1940.7, igg: 1900, znf: 1971.7, left: 1843.5, right: 2019, title: 1937, yt: 1796, ytc: 2077, sigL: 1901, sigR: 1971.7, jg: [-18, 0, 18.5], jr: [0, 0, 0], grey: '#6d6e70', red: '#EE3124', lab: 2246.7}
  ];
  gGenes.forEach((gene, i) => {
    const L = layout[i];
    const yG = scale(0, gYMax[i], L.y0, L.top);
    const bw = 23;
    const t = mk('text', {x: L.title, y: 1893 + 7.6, 'font-size': 24, 'font-style': 'italic', 'text-anchor': 'middle'}, g);
    t.textContent = gene;
    
    
    const yl = mk('text', {'font-size': 24.5, 'text-anchor': 'middle', transform: 'translate(' + L.yt + ',' + L.ytc + ') rotate(-90)'}, g);
    yl.textContent = 'Signal relative to input';
    
    
    const b1 = mk('rect', {x: L.igg - bw, y: yG(gIgG[i]), width: bw * 2, height: L.y0 - yG(gIgG[i]), fill: L.grey}, g);
    
    
    const b2 = mk('rect', {x: L.znf - bw, y: yG(gZNF[i]), width: bw * 2, height: L.y0 - yG(gZNF[i]), fill: L.red}, g);
    
    
    [[L.igg, gIgG[i], gIgGErr[i]], [L.znf, gZNF[i], gZNFErr[i]]].forEach(e => {
      axisLine(g, e[0], yG(e[1]), e[0], yG(e[1] + e[2]), '#444', 1.8);
      axisLine(g, e[0] - 12.5, yG(e[1] + e[2]), e[0] + 12.5, yG(e[1] + e[2]), '#444', 1.8);
    });
    gIgGReps[i].forEach((v, k) => {
      const c = mk('circle', {cx: L.igg + L.jg[k], cy: yG(v), r: 5.5, fill: 'none', stroke: '#3a3a3a', 'stroke-width': 1.8, 'stroke-opacity': .85}, g);
      
      
    });
    gZNFReps[i].forEach((v, k) => {
      const c = mk('circle', {cx: L.znf + L.jr[k], cy: yG(v), r: 5.5, fill: 'none', stroke: v > gZNF[i] ? '#555' : '#7e1a14', 'stroke-width': 1.8}, g);
      
      
    });
    axisLine(g, L.ax, L.top, L.ax, L.y0, AXC, 1.8);
    gYTicks[i].forEach(v => {
      axisLine(g, L.ax - 11.4, yG(v), L.ax, yG(v), AXC, 1.8);
      label(g, String(v), L.ax - 13.4, yG(v) + 8.6, 24, 'end');
    });
    axisLine(g, L.left, L.y0, L.right, L.y0, AXC, 2);
    axisLine(g, L.igg, L.y0, L.igg, L.y0 + 11, AXC, 1.8);
    axisLine(g, L.znf, L.y0, L.znf, L.y0 + 11, AXC, 1.8);
    label(g, gCategories[0], L.igg - 1, L.lab + 8.6, 24, 'middle');
    label(g, gCategories[1], L.znf + 4, L.lab + 8.6, 24, 'middle');
    const s = mk('line', {x1: L.sigL, x2: L.sigR, y1: yG(gSigLevel[i]), y2: yG(gSigLevel[i]), stroke: '#6e6e6e', 'stroke-width': 2.5}, g);
    
    
    const mid = (L.sigL + L.sigR) / 2;
    if (gSigText[i].indexOf('*') >= 0) {
      const st = mk('text', {x: mid, y: yG(gSigLevel[i]) - 0.7, class: 'star'}, g);
      st.textContent = gSigText[i];
      
      
    } else {
      const st = mk('text', {x: mid, y: yG(gSigLevel[i]) - 22 + 8.6, 'font-size': 24, 'text-anchor': 'middle'}, g);
      st.textContent = gSigText[i];
      
      
    }
  });
})();
</script>
</body>
</html>
